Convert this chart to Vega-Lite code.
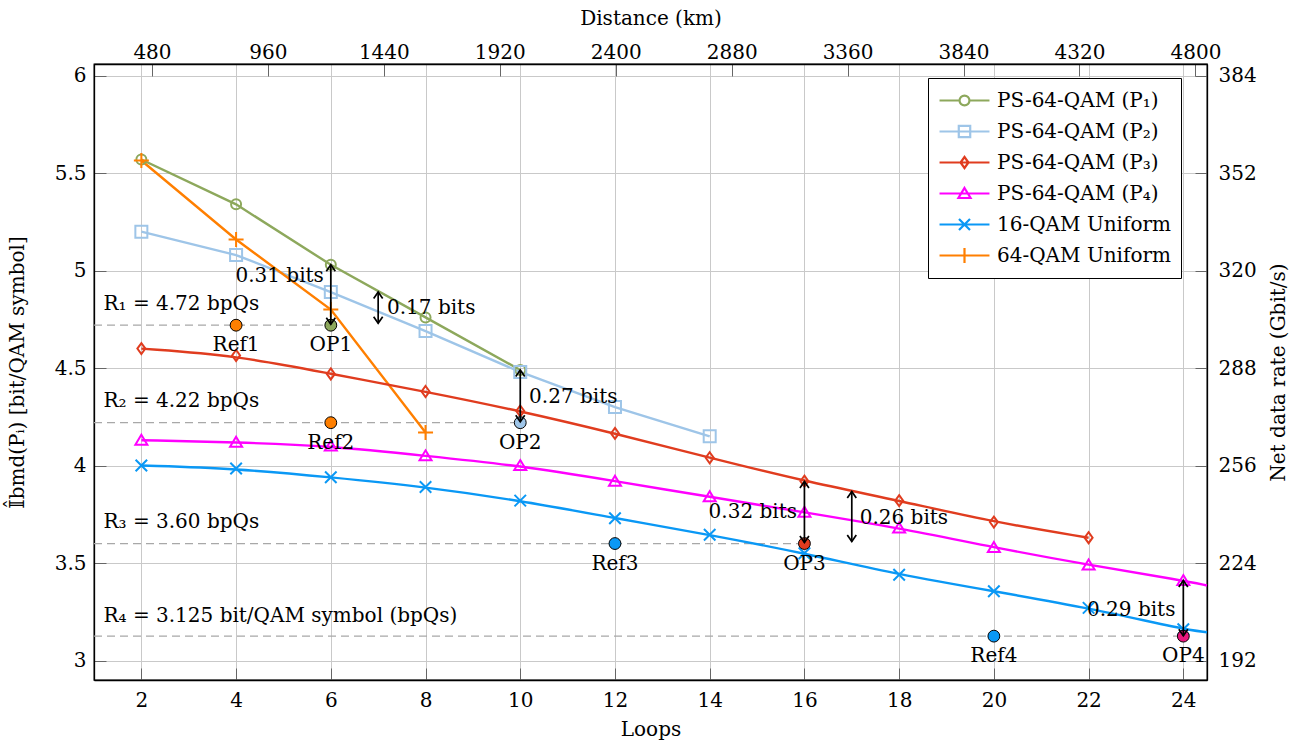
{
  "$schema": "https://vega.github.io/schema/vega-lite/v6.json",
  "width": 1113,
  "height": 616,
  "autosize": {"type": "none"},
  "padding": {"left": 94, "top": 64, "right": 100, "bottom": 62},
  "background": "white",
  "config": {
    "font": "DejaVu Serif",
    "view": {"stroke": "black", "strokeWidth": 1.3},
    "axis": {
      "labelFont": "DejaVu Serif", "titleFont": "DejaVu Serif",
      "labelFontSize": 20, "titleFontSize": 20, "titleFontWeight": "normal",
      "labelColor": "black", "titleColor": "black",
      "domainColor": "black", "domainWidth": 1.3,
      "tickColor": "#666666", "tickSize": -12, "tickWidth": 1,
      "gridColor": "#c9c9c9", "gridWidth": 1
    },
    "text": {"font": "DejaVu Serif", "fontSize": 20}
  },
  "datasets": {
    "series": [
      {"series": "PS-64-QAM (P₁)", "kind": "m", "loops": 2, "bits": 5.57},
      {"series": "PS-64-QAM (P₁)", "kind": "m", "loops": 4, "bits": 5.34},
      {"series": "PS-64-QAM (P₁)", "kind": "m", "loops": 6, "bits": 5.03},
      {"series": "PS-64-QAM (P₁)", "kind": "m", "loops": 8, "bits": 4.76},
      {"series": "PS-64-QAM (P₁)", "kind": "m", "loops": 10, "bits": 4.49},
      {"series": "PS-64-QAM (P₂)", "kind": "m", "loops": 2, "bits": 5.20},
      {"series": "PS-64-QAM (P₂)", "kind": "m", "loops": 4, "bits": 5.08},
      {"series": "PS-64-QAM (P₂)", "kind": "m", "loops": 6, "bits": 4.89},
      {"series": "PS-64-QAM (P₂)", "kind": "m", "loops": 8, "bits": 4.69},
      {"series": "PS-64-QAM (P₂)", "kind": "m", "loops": 10, "bits": 4.48},
      {"series": "PS-64-QAM (P₂)", "kind": "m", "loops": 12, "bits": 4.30},
      {"series": "PS-64-QAM (P₂)", "kind": "m", "loops": 14, "bits": 4.15},
      {"series": "PS-64-QAM (P₃)", "kind": "m", "loops": 2, "bits": 4.60},
      {"series": "PS-64-QAM (P₃)", "kind": "m", "loops": 4, "bits": 4.565},
      {"series": "PS-64-QAM (P₃)", "kind": "m", "loops": 6, "bits": 4.47},
      {"series": "PS-64-QAM (P₃)", "kind": "m", "loops": 8, "bits": 4.38},
      {"series": "PS-64-QAM (P₃)", "kind": "m", "loops": 10, "bits": 4.28},
      {"series": "PS-64-QAM (P₃)", "kind": "m", "loops": 12, "bits": 4.165},
      {"series": "PS-64-QAM (P₃)", "kind": "m", "loops": 14, "bits": 4.04},
      {"series": "PS-64-QAM (P₃)", "kind": "m", "loops": 16, "bits": 3.92},
      {"series": "PS-64-QAM (P₃)", "kind": "m", "loops": 18, "bits": 3.82},
      {"series": "PS-64-QAM (P₃)", "kind": "m", "loops": 20, "bits": 3.71},
      {"series": "PS-64-QAM (P₃)", "kind": "m", "loops": 22, "bits": 3.63},
      {"series": "PS-64-QAM (P₄)", "kind": "m", "loops": 2, "bits": 4.13},
      {"series": "PS-64-QAM (P₄)", "kind": "m", "loops": 4, "bits": 4.12},
      {"series": "PS-64-QAM (P₄)", "kind": "m", "loops": 6, "bits": 4.10},
      {"series": "PS-64-QAM (P₄)", "kind": "m", "loops": 8, "bits": 4.05},
      {"series": "PS-64-QAM (P₄)", "kind": "m", "loops": 10, "bits": 4.00},
      {"series": "PS-64-QAM (P₄)", "kind": "m", "loops": 12, "bits": 3.92},
      {"series": "PS-64-QAM (P₄)", "kind": "m", "loops": 14, "bits": 3.84},
      {"series": "PS-64-QAM (P₄)", "kind": "m", "loops": 16, "bits": 3.76},
      {"series": "PS-64-QAM (P₄)", "kind": "m", "loops": 18, "bits": 3.68},
      {"series": "PS-64-QAM (P₄)", "kind": "m", "loops": 20, "bits": 3.58},
      {"series": "PS-64-QAM (P₄)", "kind": "m", "loops": 22, "bits": 3.49},
      {"series": "PS-64-QAM (P₄)", "kind": "m", "loops": 24, "bits": 3.41},
      {"series": "PS-64-QAM (P₄)", "kind": "end", "loops": 24.5, "bits": 3.385},
      {"series": "16-QAM Uniform", "kind": "m", "loops": 2, "bits": 4.00},
      {"series": "16-QAM Uniform", "kind": "m", "loops": 4, "bits": 3.985},
      {"series": "16-QAM Uniform", "kind": "m", "loops": 6, "bits": 3.94},
      {"series": "16-QAM Uniform", "kind": "m", "loops": 8, "bits": 3.89},
      {"series": "16-QAM Uniform", "kind": "m", "loops": 10, "bits": 3.82},
      {"series": "16-QAM Uniform", "kind": "m", "loops": 12, "bits": 3.73},
      {"series": "16-QAM Uniform", "kind": "m", "loops": 14, "bits": 3.645},
      {"series": "16-QAM Uniform", "kind": "m", "loops": 16, "bits": 3.55},
      {"series": "16-QAM Uniform", "kind": "m", "loops": 18, "bits": 3.44},
      {"series": "16-QAM Uniform", "kind": "m", "loops": 20, "bits": 3.355},
      {"series": "16-QAM Uniform", "kind": "m", "loops": 22, "bits": 3.27},
      {"series": "16-QAM Uniform", "kind": "m", "loops": 24, "bits": 3.16},
      {"series": "16-QAM Uniform", "kind": "end", "loops": 24.5, "bits": 3.145},
      {"series": "64-QAM Uniform", "kind": "m", "loops": 2, "bits": 5.565},
      {"series": "64-QAM Uniform", "kind": "m", "loops": 4, "bits": 5.16},
      {"series": "64-QAM Uniform", "kind": "m", "loops": 6, "bits": 4.80},
      {"series": "64-QAM Uniform", "kind": "m", "loops": 8, "bits": 4.17}
    ],
    "refs": [
      {"name": "Ref1", "loops": 4, "bits": 4.72},
      {"name": "OP1", "loops": 6, "bits": 4.72},
      {"name": "Ref2", "loops": 6, "bits": 4.22},
      {"name": "OP2", "loops": 10, "bits": 4.22},
      {"name": "Ref3", "loops": 12, "bits": 3.60},
      {"name": "OP3", "loops": 16, "bits": 3.60},
      {"name": "Ref4", "loops": 20, "bits": 3.125},
      {"name": "OP4", "loops": 24, "bits": 3.125}
    ],
    "rlines": [
      {"bits": 4.72, "from": 1, "to": 6},
      {"bits": 4.22, "from": 1, "to": 10},
      {"bits": 3.60, "from": 1, "to": 16},
      {"bits": 3.125, "from": 1, "to": 24}
    ],
    "rlabels": [
      {"text": "R₁ = 4.72 bpQs", "loops": 1.2, "bits": 4.83},
      {"text": "R₂ = 4.22 bpQs", "loops": 1.2, "bits": 4.33},
      {"text": "R₃ = 3.60 bpQs", "loops": 1.2, "bits": 3.71},
      {"text": "R₄ = 3.125 bit/QAM symbol (bpQs)", "loops": 1.2, "bits": 3.23}
    ],
    "arrows": [
      {"loops": 6, "top": 5.03, "bottom": 4.725},
      {"loops": 7, "top": 4.89, "bottom": 4.73},
      {"loops": 10, "top": 4.49, "bottom": 4.225},
      {"loops": 16, "top": 3.918, "bottom": 3.605},
      {"loops": 17, "top": 3.867, "bottom": 3.61},
      {"loops": 24, "top": 3.41, "bottom": 3.127}
    ],
    "arrowLabels": [
      {"text": "0.31 bits", "loops": 4.92, "bits": 4.97},
      {"text": "0.17 bits", "loops": 8.12, "bits": 4.81},
      {"text": "0.27 bits", "loops": 11.12, "bits": 4.35},
      {"text": "0.32 bits", "loops": 14.91, "bits": 3.76},
      {"text": "0.26 bits", "loops": 18.1, "bits": 3.73},
      {"text": "0.29 bits", "loops": 22.9, "bits": 3.26}
    ],
    "axes": [
      {"km": 480, "rate": 192},
      {"km": 4800, "rate": 384}
    ]
  },
  "layer": [
    {
      "layer": [
        {
          "data": {"name": "rlines"},
          "mark": {"type": "rule", "color": "#a8a8a8", "strokeWidth": 1.2, "strokeDash": [8, 5]},
          "encoding": {
            "x": {"field": "from", "type": "quantitative", "scale": {"domain": [1, 24.5], "nice": false, "zero": false},
              "axis": {"title": "Loops", "values": [2, 4, 6, 8, 10, 12, 14, 16, 18, 20, 22, 24], "grid": true, "labelPadding": 22, "titlePadding": 9}},
            "x2": {"field": "to"},
            "y": {"field": "bits", "type": "quantitative", "scale": {"domain": [2.9, 6.06], "nice": false, "zero": false},
              "axis": {"title": "𝕀̂bmd(Pᵢ) [bit/QAM symbol]", "values": [3, 3.5, 4, 4.5, 5, 5.5, 6], "format": ".1~f", "grid": true, "labelPadding": 20, "titlePadding": 27}}
          }
        },
        {
          "data": {"name": "series"},
          "transform": [{"filter": "indexof(['PS-64-QAM (P₁)','PS-64-QAM (P₂)','64-QAM Uniform'], datum.series) >= 0"}],
          "mark": {"type": "line", "strokeWidth": 2.4},
          "encoding": {
            "x": {"field": "loops", "type": "quantitative", "scale": {"domain": [1, 24.5], "nice": false, "zero": false}},
            "y": {"field": "bits", "type": "quantitative", "scale": {"domain": [2.9, 6.06], "nice": false, "zero": false}},
            "color": {"field": "series", "type": "nominal",
              "scale": {"domain": ["PS-64-QAM (P₁)", "PS-64-QAM (P₂)", "PS-64-QAM (P₃)", "PS-64-QAM (P₄)", "16-QAM Uniform", "64-QAM Uniform"],
                        "range": ["#8da85c", "#9ec5e8", "#e03c1f", "#ff00ff", "#0a98f5", "#ff7f00"]},
              "legend": {
                "title": null, "orient": "none", "legendX": 834, "legendY": 14,
                "padding": 10, "strokeColor": "black", "fillColor": "white",
                "symbolSize": 484, "symbolOffset": 14, "symbolStrokeWidth": 2.2,
                "labelFontSize": 20, "labelFont": "DejaVu Serif", "labelColor": "black",
                "labelOffset": 20, "rowPadding": 8, "labelLimit": 400,
                "encode": {"symbols": {"update": {
                  "shape": {"signal": "['M -2.27 0 L -0.45 0 M 0.45 0 L 2.27 0 M -0.45 0 A 0.45 0.45 0 1 1 0.45 0 A 0.45 0.45 0 1 1 -0.45 0','M -2.27 0 L 2.27 0 M -0.52 -0.52 L 0.52 -0.52 L 0.52 0.52 L -0.52 0.52 Z','M -2.27 0 L 2.27 0 M 0 -0.5 L 0.36 0 L 0 0.5 L -0.36 0 Z','M -2.27 0 L 2.27 0 M 0 -0.5 L 0.55 0.41 L -0.55 0.41 Z','M -2.27 0 L 2.27 0 M -0.5 -0.5 L 0.5 0.5 M -0.5 0.5 L 0.5 -0.5','M -2.27 0 L 2.27 0 M 0 -0.68 L 0 0.68'][indexof(['PS-64-QAM (P₁)','PS-64-QAM (P₂)','PS-64-QAM (P₃)','PS-64-QAM (P₄)','16-QAM Uniform','64-QAM Uniform'], datum.value)]"},
                  "fill": {"value": "transparent"},
                  "strokeWidth": {"value": 2.2}
                }}}
              }
            }
          }
        },
        {
          "data": {"name": "series"},
          "transform": [{"filter": "indexof(['PS-64-QAM (P₃)','PS-64-QAM (P₄)','16-QAM Uniform'], datum.series) >= 0"}],
          "mark": {"type": "line", "strokeWidth": 2.4, "interpolate": "basis"},
          "encoding": {
            "x": {"field": "loops", "type": "quantitative", "scale": {"domain": [1, 24.5], "nice": false, "zero": false}},
            "y": {"field": "bits", "type": "quantitative", "scale": {"domain": [2.9, 6.06], "nice": false, "zero": false}},
            "color": {"field": "series", "type": "nominal"}
          }
        },
        {
          "data": {"name": "series"},
          "transform": [{"filter": "datum.kind == 'm'"}],
          "mark": {"type": "point", "filled": false, "strokeWidth": 2, "size": 100, "opacity": 1},
          "encoding": {
            "x": {"field": "loops", "type": "quantitative", "scale": {"domain": [1, 24.5], "nice": false, "zero": false}},
            "y": {"field": "bits", "type": "quantitative", "scale": {"domain": [2.9, 6.06], "nice": false, "zero": false}},
            "color": {"field": "series", "type": "nominal"},
            "shape": {"field": "series", "type": "nominal", "legend": null,
              "scale": {"domain": ["PS-64-QAM (P₁)", "PS-64-QAM (P₂)", "PS-64-QAM (P₃)", "PS-64-QAM (P₄)", "16-QAM Uniform", "64-QAM Uniform"],
                        "range": ["M -1 0 A 1 1 0 1 1 1 0 A 1 1 0 1 1 -1 0", "M -1.2 -1.2 L 1.2 -1.2 L 1.2 1.2 L -1.2 1.2 Z", "M 0 -1.1 L 0.8 0 L 0 1.1 L -0.8 0 Z", "M 0 -1.1 L 1.2 0.9 L -1.2 0.9 Z", "M -1.15 -1.15 L 1.15 1.15 M -1.15 1.15 L 1.15 -1.15", "M -1.5 0 L 1.5 0 M 0 -1.5 L 0 1.5"]}}
          }
        },
        {
          "data": {"name": "refs"},
          "mark": {"type": "circle", "size": 140, "stroke": "black", "strokeWidth": 1, "opacity": 1},
          "encoding": {
            "x": {"field": "loops", "type": "quantitative", "scale": {"domain": [1, 24.5], "nice": false, "zero": false}},
            "y": {"field": "bits", "type": "quantitative", "scale": {"domain": [2.9, 6.06], "nice": false, "zero": false}},
            "fill": {"field": "name", "type": "nominal", "legend": null,
              "scale": {"domain": ["Ref1", "OP1", "Ref2", "OP2", "Ref3", "OP3", "Ref4", "OP4"],
                        "range": ["#ff7f00", "#8da85c", "#ff7f00", "#9ec5e8", "#0a98f5", "#e03c1f", "#0a98f5", "#e8177d"]}}
          }
        },
        {
          "data": {"name": "refs"},
          "mark": {"type": "text", "dy": 20, "baseline": "middle", "align": "center", "fontSize": 20, "color": "black"},
          "encoding": {
            "x": {"field": "loops", "type": "quantitative", "scale": {"domain": [1, 24.5], "nice": false, "zero": false}},
            "y": {"field": "bits", "type": "quantitative", "scale": {"domain": [2.9, 6.06], "nice": false, "zero": false}},
            "text": {"field": "name"}
          }
        },
        {
          "data": {"name": "arrows"},
          "mark": {"type": "rule", "color": "black", "strokeWidth": 1.7},
          "encoding": {
            "x": {"field": "loops", "type": "quantitative", "scale": {"domain": [1, 24.5], "nice": false, "zero": false}},
            "y": {"field": "top", "type": "quantitative", "scale": {"domain": [2.9, 6.06], "nice": false, "zero": false}},
            "y2": {"field": "bottom"}
          }
        },
        {
          "data": {"name": "arrows"},
          "mark": {"type": "point", "filled": false, "color": "black", "strokeWidth": 1.7, "size": 100, "opacity": 1, "shape": "M -0.9 1.3 L 0 0 L 0.9 1.3"},
          "encoding": {
            "x": {"field": "loops", "type": "quantitative", "scale": {"domain": [1, 24.5], "nice": false, "zero": false}},
            "y": {"field": "top", "type": "quantitative", "scale": {"domain": [2.9, 6.06], "nice": false, "zero": false}}
          }
        },
        {
          "data": {"name": "arrows"},
          "mark": {"type": "point", "filled": false, "color": "black", "strokeWidth": 1.7, "size": 100, "opacity": 1, "shape": "M -0.9 -1.3 L 0 0 L 0.9 -1.3"},
          "encoding": {
            "x": {"field": "loops", "type": "quantitative", "scale": {"domain": [1, 24.5], "nice": false, "zero": false}},
            "y": {"field": "bottom", "type": "quantitative", "scale": {"domain": [2.9, 6.06], "nice": false, "zero": false}}
          }
        },
        {
          "data": {"name": "arrowLabels"},
          "mark": {"type": "text", "align": "center", "baseline": "middle", "fontSize": 20, "color": "black"},
          "encoding": {
            "x": {"field": "loops", "type": "quantitative", "scale": {"domain": [1, 24.5], "nice": false, "zero": false}},
            "y": {"field": "bits", "type": "quantitative", "scale": {"domain": [2.9, 6.06], "nice": false, "zero": false}},
            "text": {"field": "text"}
          }
        },
        {
          "data": {"name": "rlabels"},
          "mark": {"type": "text", "align": "left", "baseline": "middle", "fontSize": 20, "color": "black"},
          "encoding": {
            "x": {"field": "loops", "type": "quantitative", "scale": {"domain": [1, 24.5], "nice": false, "zero": false}},
            "y": {"field": "bits", "type": "quantitative", "scale": {"domain": [2.9, 6.06], "nice": false, "zero": false}},
            "text": {"field": "text"}
          }
        }
      ],
      "resolve": {"scale": {"shape": "independent"}}
    },
    {
      "data": {"name": "axes"},
      "mark": {"type": "point", "opacity": 0},
      "encoding": {
        "x": {"field": "km", "type": "quantitative", "scale": {"domain": [240, 4848], "nice": false, "zero": false},
          "axis": {"orient": "top", "title": "Distance (km)", "format": "d", "values": [480, 960, 1440, 1920, 2400, 2880, 3360, 3840, 4320, 4800], "grid": false, "labelPadding": 14, "titlePadding": 14}},
        "y": {"field": "rate", "type": "quantitative", "scale": {"domain": [185.6, 387.84], "nice": false, "zero": false},
          "axis": {"orient": "right", "title": "Net data rate (Gbit/s)", "values": [192, 224, 256, 288, 320, 352, 384], "grid": false, "labelPadding": 23, "titlePadding": 12, "titleAngle": 270, "titleBaseline": "top"}}
      }
    }
  ],
  "resolve": {"scale": {"x": "independent", "y": "independent"}, "axis": {"x": "independent", "y": "independent"}}
}
